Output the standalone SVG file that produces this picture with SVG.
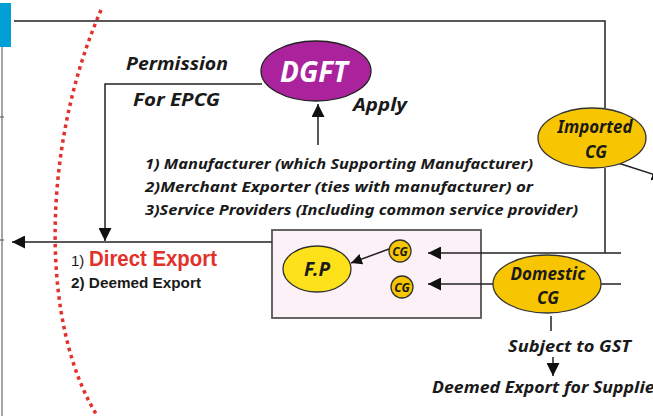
<svg xmlns="http://www.w3.org/2000/svg" width="653" height="416" viewBox="0 0 653 416">
<defs>
<marker id="ah" viewBox="0 0 12 12" refX="12" refY="6" markerWidth="13" markerHeight="13" markerUnits="userSpaceOnUse" orient="auto"><path d="M0,0 L12,6 L0,12 z" fill="#111"/></marker>
<marker id="ahs" viewBox="0 0 12 12" refX="12" refY="6" markerWidth="11" markerHeight="11" markerUnits="userSpaceOnUse" orient="auto"><path d="M0,0 L12,6 L0,12 z" fill="#111"/></marker>
</defs>
<style>
.ln{fill:none;stroke:#222;stroke-width:1.5}
.hw{font-family:"Noto Sans","Open Sans",sans-serif;font-style:italic;font-weight:bold;fill:#1a1a1a}
.gold{fill:#f7c600;stroke:#333;stroke-width:1.3}
.ar{font-family:"Liberation Sans",Arial,sans-serif;font-weight:bold}
</style>
<rect width="653" height="416" fill="#ffffff"/>
<rect x="0" y="3" width="11" height="44" fill="#00a0d6"/>
<g id="left-rule">
<line x1="2" y1="47" x2="2" y2="416" stroke="#888" stroke-width="1.5"/>
<line x1="0" y1="117" x2="4" y2="117" stroke="#555" stroke-width="1"/>
<line x1="0" y1="240" x2="4" y2="240" stroke="#555" stroke-width="1"/>
</g>
<path id="red-arc" d="M101,10 C40,150 40,330 100,420" fill="none" stroke="#e2302a" stroke-width="3.5" stroke-dasharray="3.5 4"/>
<g id="fp-box">
<rect x="272" y="230" width="209" height="88" fill="#fdf1f8" stroke="#555" stroke-width="1.8"/>
</g>
<g id="connectors">
<path class="ln" d="M605,108 V21 H14"/>
<path class="ln" d="M262,84 H105 V241" marker-end="url(#ah)"/>
<path class="ln" d="M318,145 V104" marker-end="url(#ah)"/>
<path class="ln" d="M272,242 H12" marker-end="url(#ah)"/>
<path class="ln" d="M605,168 V253"/>
<path class="ln" d="M621,253 H428" marker-end="url(#ah)"/>
<path class="ln" d="M621,284 H428" marker-end="url(#ah)"/>
<path class="ln" d="M389,249 L351,263" marker-end="url(#ahs)"/>
<path class="ln" d="M618,163 L665,178" marker-end="url(#ah)"/>
<path class="ln" d="M551,316 V331"/>
<path class="ln" d="M553,357 V376" marker-end="url(#ah)"/>
</g>
<g id="dgft">
<ellipse cx="316" cy="71" rx="55" ry="30" fill="#aa229c" stroke="#222" stroke-width="1.3"/>
<text class="hw" x="314" y="82" font-size="29" text-anchor="middle" fill="#fff" style="fill:#fff" textLength="68" lengthAdjust="spacingAndGlyphs">DGFT</text>
</g>
<g id="imported">
<ellipse class="gold" cx="592" cy="138" rx="54" ry="30"/>
<text class="hw" x="595" y="133" font-size="17" text-anchor="middle" textLength="75" lengthAdjust="spacingAndGlyphs">Imported</text>
<text class="hw" x="596" y="158" font-size="17" text-anchor="middle">CG</text>
</g>
<g id="domestic">
<ellipse class="gold" cx="547" cy="284" rx="54" ry="29"/>
<text class="hw" x="548" y="280" font-size="17" text-anchor="middle" textLength="75" lengthAdjust="spacingAndGlyphs">Domestic</text>
<text class="hw" x="548" y="304" font-size="17" text-anchor="middle">CG</text>
</g>
<g id="fp">
<ellipse cx="317" cy="269" rx="34" ry="23" fill="#fde21b" stroke="#333" stroke-width="1.3"/>
<text class="hw" x="317" y="276" font-size="19" text-anchor="middle">F.P</text>
</g>
<g id="cg1">
<circle class="gold" cx="400" cy="251" r="11"/>
<text class="hw" x="400" y="256" font-size="12" text-anchor="middle">CG</text>
</g>
<g id="cg2">
<circle class="gold" cx="402" cy="287" r="11"/>
<text class="hw" x="402" y="292" font-size="12" text-anchor="middle">CG</text>
</g>
<g id="labels">
<text class="hw" x="126" y="70" font-size="18" textLength="102" lengthAdjust="spacingAndGlyphs">Permission</text>
<text class="hw" x="133" y="106" font-size="18" textLength="87" lengthAdjust="spacingAndGlyphs">For EPCG</text>
<text class="hw" x="353" y="111" font-size="18" textLength="54" lengthAdjust="spacingAndGlyphs">Apply</text>
<text class="hw" x="145" y="169" font-size="15" textLength="388" lengthAdjust="spacingAndGlyphs">1) Manufacturer (which Supporting Manufacturer)</text>
<text class="hw" x="145" y="192" font-size="15" textLength="388" lengthAdjust="spacingAndGlyphs">2)Merchant Exporter (ties with manufacturer) or</text>
<text class="hw" x="145" y="215" font-size="15" textLength="433" lengthAdjust="spacingAndGlyphs">3)Service Providers (Including common service provider)</text>
<text class="ar" x="71" y="266" font-size="15" font-weight="normal" style="font-weight:normal" fill="#1a1a1a">1)</text>
<text class="ar" x="89" y="266" font-size="22" fill="#e2302a" textLength="128" lengthAdjust="spacingAndGlyphs">Direct Export</text>
<text class="ar" x="71" y="288" font-size="15" fill="#1a1a1a" textLength="130" lengthAdjust="spacingAndGlyphs">2) Deemed Export</text>
<text class="hw" x="508" y="352" font-size="16" textLength="123" lengthAdjust="spacingAndGlyphs">Subject to GST</text>
<text class="hw" x="432" y="393" font-size="16" textLength="230" lengthAdjust="spacingAndGlyphs">Deemed Export for Supplier</text>
</g>
</svg>
